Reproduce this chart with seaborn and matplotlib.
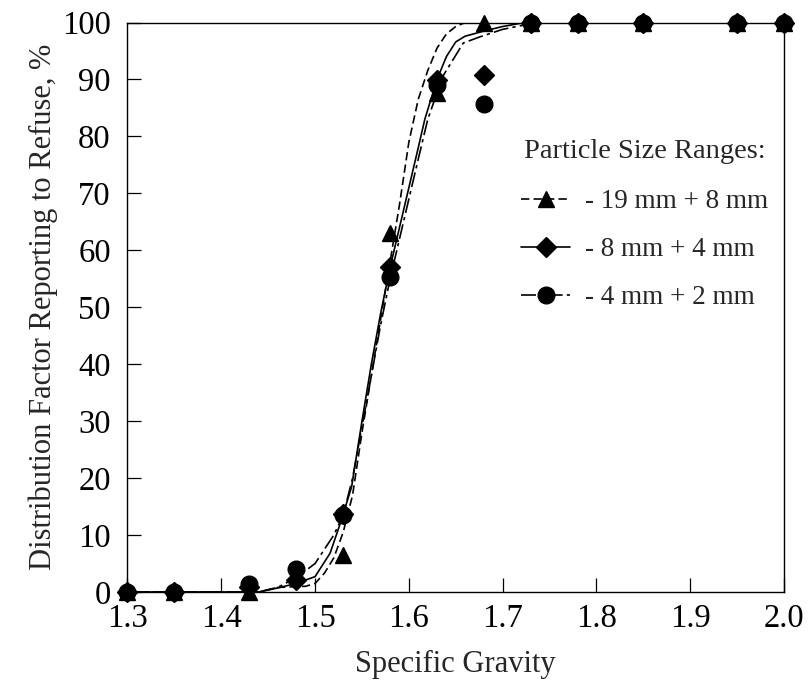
import numpy as np
import pandas as pd
import matplotlib
matplotlib.use("Agg")
import matplotlib.pyplot as plt
from matplotlib.lines import Line2D
import seaborn as sns

# measured points (specific gravity vs distribution factor, %)
sg = [1.30, 1.35, 1.43, 1.48, 1.53, 1.58, 1.63, 1.68, 1.73, 1.78, 1.85, 1.95, 2.00]
pts_19_8 = [0, 0, 0, np.nan, 6.5, 63.0, 87.6, 100, 100, 100, 100, 100, 100]
pts_8_4 = [0, 0, 0.8, 2.1, 13.7, 57.1, 89.9, 90.8, 100, 100, 100, 100, 100]
pts_4_2 = [0, 0, 1.4, 4.0, 13.6, 55.3, 89.0, 85.7, 100, 100, 100, 100, 100]

# fitted partition curves
curve_x_19_8 = [1.30, 1.44, 1.46, 1.49, 1.50, 1.51, 1.52, 1.53, 1.54, 1.55, 1.56, 1.57,
                1.58, 1.59, 1.60, 1.61, 1.62, 1.63, 1.64, 1.65, 1.66, 2.00]
curve_y_19_8 = [0, 0, 0.8, 1.0, 1.5, 3.3, 6.0, 10.5, 17, 28, 38, 48,
                58, 68, 79, 86.5, 91.5, 95.5, 98, 99.3, 100, 100]

curve_x_8_4 = [1.30, 1.44, 1.46, 1.48, 1.50, 1.516, 1.527, 1.539, 1.55, 1.56, 1.57, 1.58,
               1.59, 1.60, 1.61, 1.617, 1.63, 1.64, 1.65, 1.66, 1.68, 1.70, 1.72, 1.73, 2.00]
curve_y_8_4 = [0, 0, 0.7, 1.5, 2.7, 6.8, 12.1, 18.5, 30, 40, 49, 57,
               64, 71, 78, 83, 90, 94, 96.6, 97.6, 98.5, 99.3, 99.9, 100, 100]

curve_x_4_2 = [1.30, 1.44, 1.46, 1.48, 1.50, 1.52, 1.53, 1.54, 1.55, 1.56, 1.57, 1.58,
               1.59, 1.60, 1.61, 1.62, 1.636, 1.658, 1.676, 1.70, 1.73, 1.75, 2.00]
curve_y_4_2 = [0, 0, 0.8, 2.5, 5.0, 10.0, 13.5, 20, 29, 38, 47, 55,
               62, 69, 76, 82.9, 90.5, 96.4, 97.5, 98.8, 99.8, 100, 100]

labels = ["- 19 mm + 8 mm", "- 8 mm + 4 mm", "- 4 mm + 2 mm"]
markers = ["^", "D", "o"]
msizes = [12, 10, 12]
styles = [(0, (5, 2.5)), "-", (0, (9, 2.5, 2, 2.5))]

sns.set_style("ticks")
plt.rcParams["font.family"] = ["Liberation Serif", "DejaVu Serif"]

fig = plt.figure(figsize=(8.1, 6.89), dpi=100)
ax = fig.add_axes([0.1574, 0.1408, 0.8105, 0.8265])

curves = [(curve_x_19_8, curve_y_19_8), (curve_x_8_4, curve_y_8_4), (curve_x_4_2, curve_y_4_2)]
points = [pts_19_8, pts_8_4, pts_4_2]

for (cx, cy), ls in zip(curves, styles):
    sns.lineplot(x=cx, y=cy, ax=ax, color="black", lw=1.2, linestyle=ls,
                 estimator=None, sort=False, legend=False)

for py, m, ms in zip(points, markers, msizes):
    ax.plot(sg, py, linestyle="none", marker=m, ms=ms, color="black",
            mec="black", mew=1, clip_on=False, zorder=5)

ax.set_xlim(1.3, 2.0)
ax.set_ylim(0, 100)
ax.set_xticks(np.arange(1.3, 2.01, 0.1))
ax.set_xticklabels(["1.3", "1.4", "1.5", "1.6", "1.7", "1.8", "1.9", "2.0"])
ax.set_yticks(range(0, 101, 10))
ax.tick_params(direction="in", length=10, width=0.9, labelsize=23.5,
               colors="black")
ax.tick_params(axis="x", pad=8)
ax.tick_params(axis="y", pad=12)
for s in ax.spines.values():
    s.set_linewidth(1.0)
    s.set_color("black")

ax.set_xlabel("Specific Gravity", fontsize=22, labelpad=12)
ax.set_ylabel("Distribution Factor Reporting to Refuse, %", fontsize=22, labelpad=3)

handles = [Line2D([], [], color="black", lw=1.2, linestyle=ls, marker=m, ms=ms)
           for ls, m, ms in zip(styles, markers, msizes)]
leg = ax.legend(handles, labels, title="Particle Size Ranges:", frameon=False,
                loc="upper left", bbox_to_anchor=(0.563, 0.838), fontsize=19.5,
                title_fontsize=20.5, handlelength=1.8, handletextpad=0.55,
                labelspacing=0.85)
leg._legend_box.align = "center"
leg._legend_box.sep = 18

fig.savefig("out.png", dpi=100)
